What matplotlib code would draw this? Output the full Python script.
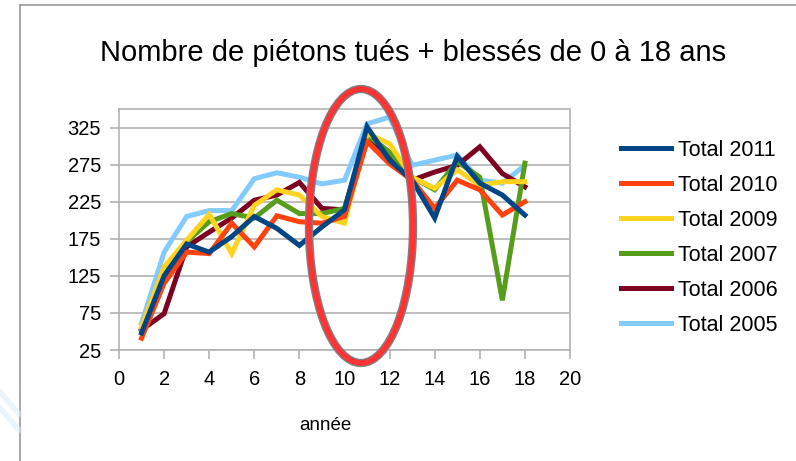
import matplotlib
matplotlib.use("Agg")
import matplotlib.pyplot as plt
from matplotlib.patches import Ellipse
from matplotlib.lines import Line2D

plt.rcParams["font.family"] = ["Liberation Sans", "DejaVu Sans"]

# ages 1..18
ages = list(range(1, 19))

total_2011 = [48, 125, 168, 157, 178, 205, 189, 166, 191, 214, 326, 281, 254, 203, 286, 250, 234, 207]
total_2010 = [41, 115, 157, 155, 196, 164, 206, 198, 196, 205, 306, 276, 254, 216, 254, 241, 207, 225]
total_2009 = [56, 137, 173, 208, 155, 220, 241, 234, 205, 196, 317, 303, 258, 243, 268, 247, 252, 252]
total_2007 = [52, 130, 171, 198, 209, 203, 227, 209, 209, 216, 315, 292, 258, 241, 279, 258, 92, 277]
total_2006 = [52, 74, 164, 184, 203, 227, 234, 251, 216, 214, 315, 285, 254, 265, 274, 299, 263, 245]
total_2005 = [61, 157, 205, 213, 213, 256, 264, 258, 249, 254, 330, 339, 274, 281, 288, 254, 250, 274]

series = [
    ("Total 2011", total_2011, "#004586"),
    ("Total 2010", total_2010, "#ff420e"),
    ("Total 2009", total_2009, "#ffd320"),
    ("Total 2007", total_2007, "#579d1c"),
    ("Total 2006", total_2006, "#7e0021"),
    ("Total 2005", total_2005, "#83caff"),
]

x_ticks = list(range(0, 21, 2))
y_ticks = list(range(25, 326, 50))

W, H = 796, 461
fig = plt.figure(figsize=(W / 100, H / 100), dpi=100)
fig.patch.set_facecolor("white")

# axes box in pixel terms
left, right, top, bottom = 119, 570, 109, 350
ax = fig.add_axes([left / W, 1 - bottom / H, (right - left) / W, (bottom - top) / H])

# draw oldest first so 2011 ends on top
for label, vals, color in reversed(series):
    ax.plot(ages, vals, color=color, lw=3.6, solid_joinstyle="miter", zorder=3)

ax.set_xlim(0, 20)
ax.set_ylim(25, 350)
ax.set_xticks(x_ticks)
ax.set_yticks(y_ticks)
ax.grid(axis="y", color="#b3b3b3", lw=1.2)
for s in ax.spines.values():
    s.set_color("#b3b3b3")
    s.set_linewidth(1.2)
ax.spines["bottom"].set_visible(False)
ax.axhline(25, color="#b3b3b3", lw=1.2, clip_on=False, zorder=1)
ax.tick_params(axis="both", colors="#b3b3b3", length=6.5, width=1.2,
               labelcolor="black", labelsize=14.5)
ax.tick_params(axis="x", pad=8)
ax.tick_params(axis="y", pad=6.5)
ax.set_xlabel("année", fontsize=13.5)
ax.xaxis.set_label_coords((325 - left) / (right - left), -(425 - bottom) / (bottom - top))
ax.xaxis.label.set_va("center")

fig.text(413 / W, 1 - 53 / H, "Nombre de piétons tués + blessés de 0 à 18 ans",
         ha="center", va="center", fontsize=21)

handles = [Line2D([], [], color=c, lw=3.6) for _, _, c in series]
labels = [l for l, _, _ in series]
fig.legend(handles, labels, loc="center left", bbox_to_anchor=(612 / W, 1 - 238 / H),
           frameon=False, fontsize=15.5, handlelength=2.35, handletextpad=0.3,
           labelspacing=0.65, borderaxespad=0)

# highlighted ellipse
for lw, col in [(6, "#808080"), (4, "#ff3333")]:
    fig.patches.append(Ellipse((361 / W, 1 - 226 / H), 104 / W, 274 / H,
                               transform=fig.transFigure, fill=False,
                               lw=lw, edgecolor=col, zorder=5))

# outer frame
fig.add_artist(Line2D([19.5 / W, 19.5 / W], [0, 1 - 5.5 / H], color="#999999",
                      lw=1.2, transform=fig.transFigure))
fig.add_artist(Line2D([19.5 / W, 1], [1 - 5.5 / H, 1 - 5.5 / H], color="#999999",
                      lw=1.2, transform=fig.transFigure))
# faint decoration bottom-left
for y0 in (392, 408):
    fig.add_artist(Line2D([0, 19 / W], [1 - y0 / H, 1 - (y0 + 22) / H],
                          color="#dceefa", lw=4, alpha=0.6, transform=fig.transFigure))

fig.savefig("out.png", dpi=100)
